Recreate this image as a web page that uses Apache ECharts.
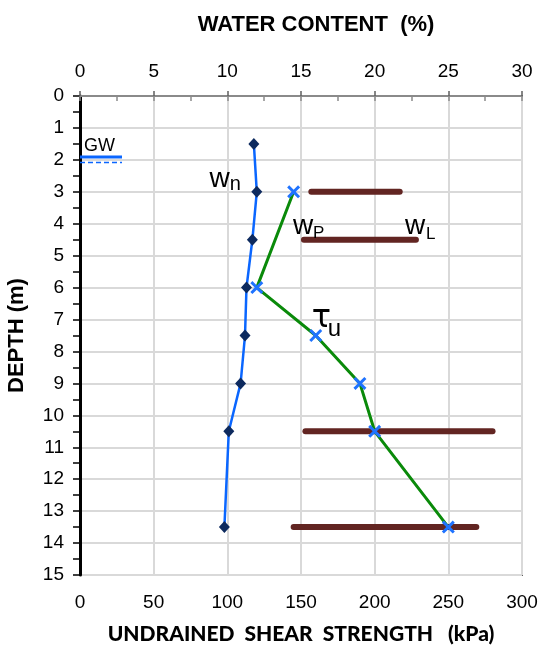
<!DOCTYPE html>
<html>
<head>
<meta charset="utf-8">
<script src="https://cdn.jsdelivr.net/npm/echarts@6/dist/echarts.min.js"></script>
<style>
  html, body { margin: 0; padding: 0; background: #fff; }
  #chart { width: 540px; height: 651px; }
</style>
</head>
<body>
<div id="chart"></div>
<script>
// Borehole profile: natural water content, Atterberg limits and undrained shear strength vs depth

// Natural water content w_n (%)
const wnDepth  = [1.5, 3, 4.5, 6, 7.5, 9, 10.5, 13.5];
const wnValues = [11.8, 12.0, 11.7, 11.3, 11.2, 10.9, 10.1, 9.8];

// Undrained shear strength tau_u (kPa)
const suDepth  = [3, 6, 7.5, 9, 10.5, 13.5];
const suValues = [145, 120, 160, 190, 200, 250];

// Atterberg limits (%): plastic limit w_P to liquid limit w_L
const limitDepth   = [3, 4.5, 10.5, 13.5];
const plasticLimit = [15.7, 15.2, 15.3, 14.5];
const liquidLimit  = [21.7, 22.8, 28.0, 26.9];

// Groundwater level (m) and the length of its marker on the water-content scale (%)
const gwDepth  = 2;
const gwLength = 2.85;

// Axis ranges
const depthRange    = [0, 15, 1];
const strengthRange = [0, 300, 50];
const waterRange    = [0, 30, 5];

const FONT = '"Liberation Sans", Arial, sans-serif';
const BLUE = '#0a66ff';
const NAVY = '#0d2a5e';
const GREEN = '#0a8a0a';
const MAROON = '#622522';
const GRID = '#d9d9d9';

const chart = echarts.init(document.getElementById('chart'), null, { renderer: 'canvas' });

const crossSymbol = 'path://M0,1.6 L1.6,0 L5,3.4 L8.4,0 L10,1.6 L6.6,5 L10,8.4 L8.4,10 L5,6.6 L1.6,10 L0,8.4 L3.4,5 Z';

const limitSeries = limitDepth.map((d, i) => ({
  type: 'line',
  xAxisIndex: 1,
  yAxisIndex: 0,
  data: [[plasticLimit[i], d], [liquidLimit[i], d]],
  symbol: 'none',
  silent: true,
  animation: false,
  z: 3,
  lineStyle: { color: MAROON, width: 6, cap: 'round' }
}));

const option = {
  animation: false,
  grid: {
    left: 80, right: 18, top: 96, bottom: 76,
    show: true, borderColor: '#5f5f5f', borderWidth: 2,
    containLabel: false,
    outerBoundsMode: 'none'
  },
  xAxis: [
    {
      // bottom: undrained shear strength
      type: 'value', position: 'bottom',
      min: strengthRange[0], max: strengthRange[1], interval: strengthRange[2],
      name: 'UNDRAINED  SHEAR  STRENGTH   (kPa)',
      nameLocation: 'middle', nameGap: 49,
      nameTextStyle: { fontFamily: 'Lato, "Open Sans", sans-serif', fontWeight: 900, fontSize: 21, color: '#000' },
      axisLine: { show: true, lineStyle: { color: '#5f5f5f', width: 2 } },
      axisTick: { show: true, inside: true, length: 5, lineStyle: { color: '#5f5f5f', width: 1.5 } },
      axisLabel: { fontFamily: FONT, fontSize: 19, color: '#000', margin: 18 },
      splitLine: { show: true, lineStyle: { color: GRID, width: 2 } }
    },
    {
      // top: water content
      type: 'value', position: 'top',
      min: waterRange[0], max: waterRange[1], interval: waterRange[2],
      name: 'WATER CONTENT  (%)',
      nameLocation: 'middle', nameGap: 60,
      nameTextStyle: { fontFamily: FONT, fontWeight: 'bold', fontSize: 22, color: '#000', padding: [0, 0, 0, 30] },
      axisLine: { show: true, lineStyle: { color: '#8a8a8a', width: 2 } },
      axisTick: { show: true, inside: true, length: 5, lineStyle: { color: '#8a8a8a', width: 1.5 } },
      minorTick: { show: true, splitNumber: 2, length: 5, lineStyle: { color: '#8a8a8a', width: 1.5 } },
      axisLabel: { fontFamily: FONT, fontSize: 19, color: '#000', margin: 15 },
      splitLine: { show: false }
    }
  ],
  yAxis: [
    {
      type: 'value', inverse: true,
      min: depthRange[0], max: depthRange[1], interval: depthRange[2],
      name: 'DEPTH (m)',
      nameLocation: 'middle', nameGap: 52, nameRotate: 90,
      nameTextStyle: { fontFamily: FONT, fontWeight: 'bold', fontSize: 22, color: '#000' },
      axisLine: { show: true, lineStyle: { color: '#000', width: 3 } },
      axisTick: { show: true, inside: false, length: 7, lineStyle: { color: '#000', width: 1.5 } },
      minorTick: { show: true, splitNumber: 2, length: 7, lineStyle: { color: '#000', width: 1.5 } },
      axisLabel: { fontFamily: FONT, fontSize: 19, color: '#000', margin: 16 },
      splitLine: { show: true, lineStyle: { color: GRID, width: 2 } }
    }
  ],
  series: [
    // groundwater level marker
    {
      type: 'line', xAxisIndex: 1, yAxisIndex: 0,
      data: [[0, gwDepth - 0.09], [gwLength, gwDepth - 0.09]],
      symbol: 'none', silent: true, z: 4,
      lineStyle: { color: BLUE, width: 3 }
    },
    {
      type: 'line', xAxisIndex: 1, yAxisIndex: 0,
      data: [[0, gwDepth + 0.08], [gwLength, gwDepth + 0.08]],
      symbol: 'none', silent: true, z: 4,
      lineStyle: { color: BLUE, width: 1.5, type: [5, 3] }
    },
    ...limitSeries,
    // undrained shear strength
    {
      type: 'line', xAxisIndex: 0, yAxisIndex: 0,
      data: suDepth.map((d, i) => [suValues[i], d]),
      symbol: crossSymbol, symbolSize: 13, z: 5,
      itemStyle: { color: '#1f73ff' },
      lineStyle: { color: GREEN, width: 3 }
    },
    // natural water content
    {
      type: 'line', xAxisIndex: 1, yAxisIndex: 0,
      data: wnDepth.map((d, i) => [wnValues[i], d]),
      symbol: 'diamond', symbolSize: [11, 12], z: 6,
      itemStyle: { color: NAVY },
      lineStyle: { color: BLUE, width: 2.5 }
    }
  ]
};

chart.setOption(option);

// Curve labels, anchored to data points on their curves (offsets in px)
const toPx = (axis, x, y) => chart.convertToPixel(axis === 'su' ? { xAxisIndex: 0, yAxisIndex: 0 } : { xAxisIndex: 1, yAxisIndex: 0 }, [x, y]);

const wnAnchor = toPx('w', wnValues[1], wnDepth[1]);
const wpAnchor = toPx('w', plasticLimit[1], limitDepth[1]);
const wlAnchor = toPx('w', liquidLimit[1], limitDepth[1]);
const suAnchor = toPx('su', suValues[2], suDepth[2]);
const gwAnchor = toPx('w', 0, gwDepth);

function txt(str, x, y, size, align, family) {
  return {
    type: 'text', silent: true, z: 10,
    style: { text: str, x: x, y: y, fill: '#000', font: size + 'px ' + (family || FONT), align: align || 'left', verticalAlign: 'middle' }
  };
}

chart.setOption({
  graphic: [
    txt('w', wnAnchor[0] - 27, wnAnchor[1] - 13, 28, 'right'),
    txt('n', wnAnchor[0] - 27, wnAnchor[1] - 7, 20),
    txt('w', wpAnchor[0] - 11, wpAnchor[1] - 13, 28),
    txt('P', wpAnchor[0] + 9, wpAnchor[1] - 6, 17),
    txt('w', wlAnchor[0] - 11, wlAnchor[1] - 13, 28),
    txt('L', wlAnchor[0] + 10, wlAnchor[1] - 5, 17),
    txt('τ', suAnchor[0] - 4, suAnchor[1] - 17, 32, 'left', '"DejaVu Sans", sans-serif'),
    txt('u', suAnchor[0] + 12, suAnchor[1] - 6, 24),
    txt('GW', gwAnchor[0] + 4, gwAnchor[1] - 14, 18)
  ]
});
</script>
</body>
</html>
